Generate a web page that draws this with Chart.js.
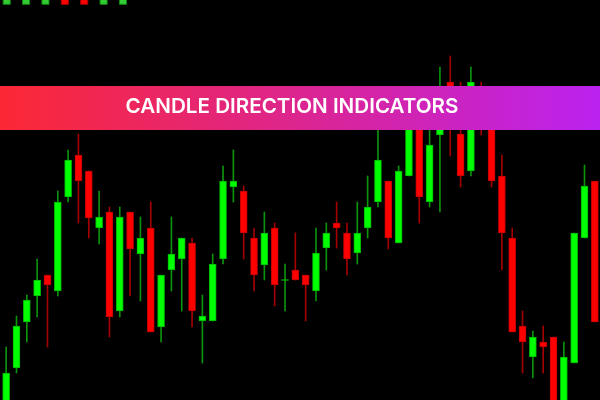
<!DOCTYPE html>
<html>
<head>
<meta charset="utf-8">
<script src="https://cdn.jsdelivr.net/npm/chart.js@4.4.0/dist/chart.umd.min.js"></script>
<style>
  html, body { margin: 0; padding: 0; background: #000; }
  #wrap { width: 600px; height: 400px; }
</style>
</head>
<body>
<div id="wrap"><canvas id="chart"></canvas></div>
<script>
// candle prices (arbitrary points, 0 = bottom edge)
const opens  = [-10, 32, 78, 104, 125, 109, 203, 245, 229, 172, 188, 89, 188, 146, 172, 73, 130, 141, 157, 79,
                79, 141, 213, 209, 162, 135, 172, 119.5, 130, 125, 109, 152, 177, 167, 147, 172, 198, 219, 157, 224,
                290, 198, 265, 318, 266, 229, 300, 280, 224, 162, 74, 43, 58, 63, -5, 37, 162, 219];
const highs  = [53, 84, 105, 141, 125, 209, 250, 266, 229, 209, 193, 193, 188, 183, 198, 125, 183, 162, 162, 105,
                146, 234, 250, 214, 172, 188, 177, 136, 167, 125, 172, 177, 198, 177, 198, 224, 272, 219, 234, 285,
                295, 280, 333, 344, 318, 333, 318, 285, 245, 172, 89, 69, 74, 63, 58, 167, 235, 219];
const lows   = [-15, 27, 58, 83, 53, 104, 198, 177, 162, 156, 63, 83, 104, 99, 68, 58, 109, 89, 73, 37,
                79, 136, 198, 141, 109, 120, 94, 89, 120, 79, 99, 130, 152, 125, 136, 162, 193, 151, 157, 224,
                177, 193, 188, 244, 213, 224, 265, 213, 130, 68, 27, 22, 27, -15, -10, 37, 162, 78];
const closes = [27, 74, 100, 120, 115, 198, 240, 219, 182, 183, 83, 183, 151, 162, 68, 125, 146, 162, 89, 84,
                136, 219, 219, 167, 125, 167, 115, 120.5, 120, 115, 147, 167, 172, 141, 167, 193, 240, 162, 229, 280,
                203, 255, 285, 290, 224, 318, 280, 219, 167, 68, 58, 63, 53, -10, 43, 167, 214, 78];

// direction boxes along the top edge
const directions = ['up', 'up', 'up', 'down', 'down', 'up', 'up'];
const indicatorLevel = 399.2;

const labels = opens.map((_, i) => 'Bar ' + (i + 1));
const isUp = i => closes[i] >= opens[i];

const bannerPlugin = {
    id: 'banner',
    beforeDraw(chart) {
        const ctx = chart.ctx;
        ctx.save();
        ctx.fillStyle = '#000';
        ctx.fillRect(0, 0, chart.width, chart.height);
        ctx.restore();
    },
    afterDraw(chart) {
        const ctx = chart.ctx;
        ctx.save();
        const grad = ctx.createLinearGradient(0, 0, chart.width, 0);
        grad.addColorStop(0, '#fb2834');
        grad.addColorStop(0.5, '#dc2590');
        grad.addColorStop(1, '#bb22f0');
        ctx.fillStyle = grad;
        ctx.fillRect(0, 86, chart.width, 44);

        const text = 'CANDLE DIRECTION INDICATORS';
        ctx.font = '600 20px Inter';
        const w = ctx.measureText(text).width;
        const size = 20 * 333 / w;
        ctx.font = '600 ' + size.toFixed(2) + 'px Inter';
        ctx.fillStyle = '#ffffff';
        ctx.textAlign = 'center';
        ctx.textBaseline = 'alphabetic';
        ctx.fillText(text, 292, 113);
        ctx.restore();
    }
};

new Chart(document.getElementById('chart'), {
    type: 'bar',
    data: {
        labels: labels,
        datasets: [
            {
                label: 'Wicks',
                data: lows.map((l, i) => [l, highs[i]]),
                backgroundColor: opens.map((_, i) => isUp(i) ? '#0c930c' : '#a30000'),
                barThickness: 1,
                grouped: false,
                order: 2,
            },
            {
                label: 'Bodies',
                data: opens.map((o, i) => [o, closes[i]]),
                backgroundColor: opens.map((_, i) => isUp(i) ? '#00ff00' : '#ff0000'),
                borderColor: opens.map((_, i) => isUp(i) ? '#00b400' : '#c00000'),
                borderWidth: 1,
                borderSkipped: false,
                barThickness: 7,
                grouped: false,
                order: 1,
            },
            {
                type: 'scatter',
                label: 'Direction',
                xAxisID: 'xs',
                data: directions.map((d, i) => ({ x: i, y: indicatorLevel })),
                pointStyle: 'rect',
                pointRadius: 5,
                backgroundColor: directions.map(d => d === 'up' ? '#33cc33' : '#ff0000'),
                borderColor: directions.map(d => d === 'up' ? '#118811' : '#aa0000'),
                borderWidth: 1,
                order: 0,
            },
        ],
    },
    options: {
        responsive: true,
        maintainAspectRatio: false,
        animation: false,
        layout: { autoPadding: false, padding: { left: 1 } },
        plugins: {
            legend: { display: false },
            tooltip: { enabled: false },
        },
        scales: {
            x: { display: false, offset: true },
            xs: { type: 'linear', display: false, offset: false, bounds: 'data', min: -0.294, max: 30.61 },
            y: { display: false, min: 0, max: 400 },
        },
    },
    plugins: [bannerPlugin],
});
</script>
</body>
</html>
